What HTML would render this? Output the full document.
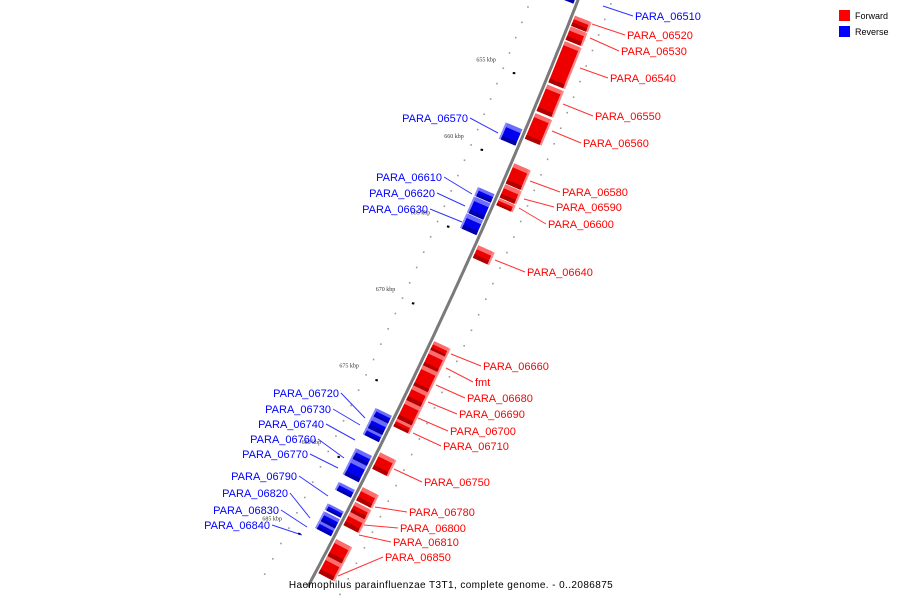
<!DOCTYPE html>
<html><head><meta charset="utf-8"><style>
html,body{margin:0;padding:0;background:#fff;}
svg{display:block;font-family:"Liberation Sans",sans-serif;}
</style></head><body>
<svg id="map" width="900" height="600" viewBox="0 0 900 600" xmlns="http://www.w3.org/2000/svg">
<g id="ticks"></g>
<path id="backbone" fill="none" stroke="#7a7a7a" stroke-width="3"/>
<g id="genes"></g>
<g id="labels" font-size="11"></g>
<g>
  <rect x="839" y="10" width="11" height="11" fill="#ff0000"/>
  <text x="855" y="19" font-size="9" fill="#000">Forward</text>
  <rect x="839" y="26" width="11" height="11" fill="#0000ff"/>
  <text x="855" y="35" font-size="9" fill="#000">Reverse</text>
</g>
<text x="451" y="588" font-size="10" text-anchor="middle" letter-spacing="0.4" fill="#000">Haemophilus parainfluenzae T3T1, complete genome. - 0..2086875</text>
</svg>
<script>
// gene data (kbp)
const geneNames = ["PARA_06510","PARA_06520","PARA_06530","PARA_06540","PARA_06550","PARA_06560","PARA_06570","PARA_06580","PARA_06590","PARA_06600","PARA_06610","PARA_06620","PARA_06630","PARA_06640","PARA_06660","fmt","PARA_06680","PARA_06690","PARA_06700","PARA_06710","PARA_06720","PARA_06730","PARA_06740","PARA_06750","PARA_06760","PARA_06770","PARA_06780","PARA_06790","PARA_06800","PARA_06810","PARA_06820","PARA_06830","PARA_06840","PARA_06850","PARA_06860"];
const geneStart = [649.2,650.45,651.15,652.1,654.9,656.75,657.95,660.0,661.35,662.25,662.15,662.75,663.85,665.3,671.5,672.05,673.05,674.35,675.3,676.5,676.5,677.0,677.75,678.7,679.1,679.75,680.95,681.3,681.9,682.55,682.7,683.2,683.8,684.3,685.4];
const geneEnd   = [649.8,651.1,652.0,654.75,656.6,658.4,659.0,661.3,662.2,662.7,662.7,663.8,664.8,666.1,672.1,673.1,674.4,675.3,676.5,677.0,677.0,677.75,678.2,679.75,679.75,680.8,681.8,681.8,682.55,683.4,683.1,683.8,684.3,685.4,686.5];
const geneStrand = [-1,1,1,1,1,1,-1,1,1,1,-1,-1,-1,1,1,1,1,1,1,1,-1,-1,-1,1,-1,-1,1,-1,1,1,-1,-1,-1,1,1];
const tickKbp = [655,660,665,670,675,680,685];
const tickLabels = ["655 kbp","660 kbp","665 kbp","670 kbp","675 kbp","680 kbp","685 kbp"];

const NS="http://www.w3.org/2000/svg";
function yOf(k){return 85+(k-655)*15.45;}
function xOfY(y){return 578-0.39*y-0.00012*y*y;}
function pt(k,off){const y=yOf(k),x=xOfY(y);
  const dx=-0.39-0.00024*y, dy=1, L=Math.hypot(dx,dy);
  const nx=dy/L, ny=-dx/L; // right normal
  return [x+nx*off, y+ny*off];}
function el(tag,attrs,parent){const e=document.createElementNS(NS,tag);for(const a in attrs)e.setAttribute(a,attrs[a]);parent.appendChild(e);return e;}

// backbone
let d="";for(let k=648;k<=687.5;k+=0.25){const p=pt(k,0);d+=(d?"L":"M")+p[0].toFixed(1)+","+p[1].toFixed(1);}
document.getElementById('backbone').setAttribute('d',d);

// ticks
const tg=document.getElementById('ticks');
for(let k=648;k<=688;k+=1){
  const a=pt(k,-44),b=pt(k,32);
  const d1=el('rect',{x:a[0]-0.8,y:a[1]-0.8,width:1.6,height:1.6,fill:'#999'},tg);
  
  const d2=el('rect',{x:b[0]-0.8,y:b[1]-0.8,width:1.6,height:1.6,fill:'#999'},tg);
  
}
tickKbp.forEach((k,i)=>{
  const a=pt(k,-31),b=pt(k,-37);
  const t=el('line',{x1:a[0],y1:a[1],x2:b[0],y2:b[1]+0.01,stroke:'#000','stroke-width':2},tg);
  t.setAttribute('x2',b[0]+3);t.setAttribute('y2',b[1]+2);
  t.setAttribute('x1',a[0]);t.setAttribute('y1',a[1]);
  
  const lp=pt(k,-52);
  const tx=el('text',{x:lp[0],y:lp[1]-4,'font-size':6,'text-anchor':'end',fill:'#333','font-family':'Liberation Serif,serif'},tg);
  tx.textContent=tickLabels[i];
  
});

// genes
const gg=document.getElementById('genes');
geneNames.forEach((n,i)=>{
  const s=geneStrand[i], k0=geneStart[i], k1=geneEnd[i];
  const i0=3*s, i1=19*s;
  const main=s>0?'#ee0000':'#0000ee', dark=s>0?'#b00000':'#0000a8', light=s>0?'#ff8888':'#8888ff';
  const a=pt(k0,i0),b=pt(k0,i1),c=pt(k1,i1),e=pt(k1,i0);
  const g=el('g',{},gg);
  
  el('polygon',{points:[a,b,c,e].map(p=>p.join(',')).join(' '),fill:main},g);
  const b2=pt(k0,i1+2*s),c2=pt(k1,i1+2*s);
  el('polygon',{points:[b,b2,c2,c].map(p=>p.join(',')).join(' '),fill:light},g);
  const f1=pt(k0,i0),f2=pt(k0+0.15,i0),f3=pt(k0+0.15,i1);
  el('polygon',{points:[a,b,pt(k0+Math.min(0.25,(k1-k0)/3),i1),pt(k0+Math.min(0.25,(k1-k0)/3),i0)].map(p=>p.join(',')).join(' '),fill:light,opacity:0.8},g);
  el('polygon',{points:[e,c,pt(k1-Math.min(0.25,(k1-k0)/3),i1),pt(k1-Math.min(0.25,(k1-k0)/3),i0)].map(p=>p.join(',')).join(' '),fill:dark},g);
});

// labels (layout)
const lg=document.getElementById('labels');
const labs=[
 ["PARA_06510",635,20,"start",603,6],["PARA_06520",627,39,"start",592,24],["PARA_06530",621,55,"start",590,38],
 ["PARA_06540",610,82,"start",580,68],["PARA_06550",595,120,"start",563,104],["PARA_06560",583,147,"start",552,131],
 ["PARA_06570",468,122,"end",498,133],["PARA_06580",562,196,"start",530,181],["PARA_06590",556,211,"start",524,199],
 ["PARA_06600",548,228,"start",519,208],["PARA_06610",442,181,"end",472,194],["PARA_06620",435,197,"end",465,206],
 ["PARA_06630",428,213,"end",462,222],["PARA_06640",527,276,"start",495,260],["PARA_06660",483,370,"start",451,354],
 ["fmt",475,386,"start",446,368],["PARA_06680",467,402,"start",436,385],["PARA_06690",459,418,"start",428,402],
 ["PARA_06700",450,435,"start",418,418],["PARA_06710",443,450,"start",413,433],["PARA_06720",339,397,"end",365,418],
 ["PARA_06730",331,413,"end",360,425],["PARA_06740",324,428,"end",355,440],["PARA_06760",316,443,"end",344,458],
 ["PARA_06770",308,458,"end",338,468],["PARA_06750",424,486,"start",394,469],["PARA_06790",297,480,"end",328,496],
 ["PARA_06820",288,497,"end",310,518],["PARA_06830",279,514,"end",307,527],["PARA_06840",270,529,"end",302,535],
 ["PARA_06780",409,516,"start",375,507],["PARA_06800",400,532,"start",364,525],["PARA_06810",393,546,"start",359,535],
 ["PARA_06850",385,561,"start",338,576]];
labs.forEach(l=>{
  const idx=geneNames.indexOf(l[0]); const fwd=geneStrand[idx]>0; const col=fwd?'#ff0000':'#0000ff';
  const lx=l[3]==="start"?l[1]-2:l[1]+2, ly=l[2]-4;
  const ln=el('line',{x1:l[4],y1:l[5],x2:lx,y2:ly,stroke:col,'stroke-width':1,opacity:0.8},lg);
  
  const t=el('text',{x:l[1],y:l[2],'text-anchor':l[3],fill:col},lg);
  t.textContent=l[0];
  
});
</script>
</body></html>
